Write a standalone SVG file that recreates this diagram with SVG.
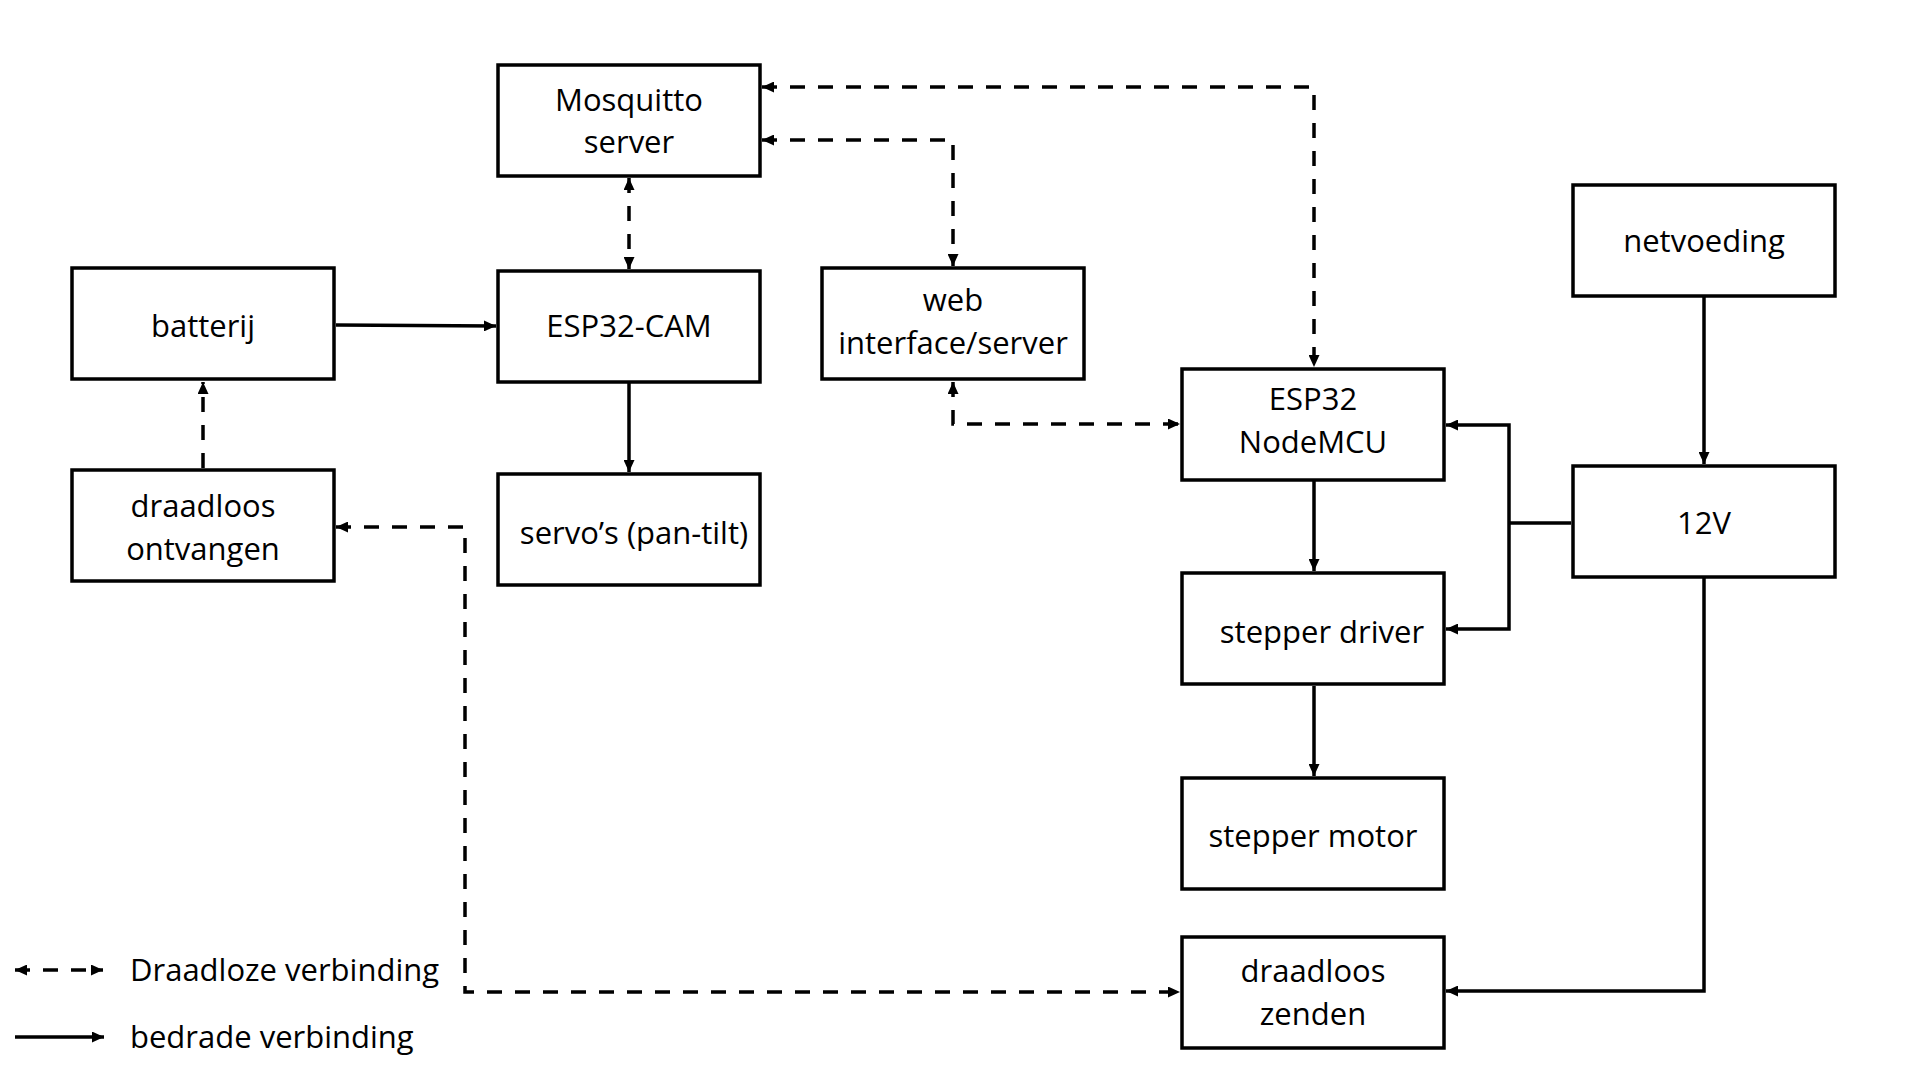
<svg xmlns="http://www.w3.org/2000/svg" width="1920" height="1080" viewBox="0 0 1920 1080">
<defs>
<style>
.box{fill:#fff;stroke:#000;stroke-width:3.5}
.lbl{font-family:"Open Sans","Liberation Sans",sans-serif;font-size:31px;fill:#000;text-anchor:middle}
.leg{font-family:"Open Sans","Liberation Sans",sans-serif;font-size:31px;fill:#000}
.wire{fill:none;stroke:#000;stroke-width:3.5;marker-end:url(#ah)}
.wl{fill:none;stroke:#000;stroke-width:3.5;stroke-dasharray:15 13;marker-start:url(#ah);marker-end:url(#ah)}
.wl1{fill:none;stroke:#000;stroke-width:3.5;stroke-dasharray:15 13;marker-end:url(#ah)}
.pl{fill:none;stroke:#000;stroke-width:3.5}
</style>
<marker id="ah" markerUnits="userSpaceOnUse" markerWidth="12" markerHeight="11" refX="12" refY="5.5" orient="auto-start-reverse" viewBox="0 0 12 11">
<path d="M0,0 L12,5.5 L0,11 z" fill="#000"/>
</marker>
</defs>
<rect width="1920" height="1080" fill="#fff"/>
<g id="connectors">
<path class="wl" d="M762,87 H1314 V367"/>
<path class="wl" d="M762,140 H953 V266"/>
<path class="wl" d="M629,178 V269"/>
<path class="wire" d="M336,325 L496,326"/>
<path class="wire" d="M629,383 V472"/>
<path class="wl1" d="M203,468 V382"/>
<path class="wl" d="M336,527 H465 V992 H1180"/>
<path class="wl" d="M953,382 V424 H1180"/>
<path class="wire" d="M1314,481 V571"/>
<path class="wire" d="M1314,686 V776"/>
<path class="wire" d="M1704,297 V464"/>
<path class="pl" d="M1571,523 H1509"/>
<path class="wire" style="marker-start:url(#ah)" d="M1446,425 H1509 V629 H1446"/>
<path class="wire" d="M1704,578 V991 H1446"/>
</g>
<g id="mosquitto"><rect class="box" x="498" y="65" width="262" height="111"/><text class="lbl" x="629" y="111">Mosquitto</text><text class="lbl" x="629" y="153">server</text></g>
<g id="esp32cam"><rect class="box" x="498" y="271" width="262" height="111"/><text class="lbl" x="629" y="337">ESP32-CAM</text></g>
<g id="batterij"><rect class="box" x="72" y="268" width="262" height="111"/><text class="lbl" x="203" y="337">batterij</text></g>
<g id="ontvangen"><rect class="box" x="72" y="470" width="262" height="111"/><text class="lbl" x="203" y="517">draadloos</text><text class="lbl" x="203" y="560">ontvangen</text></g>
<g id="servos"><rect class="box" x="498" y="474" width="262" height="111"/><text class="lbl" x="634" y="544">servo’s (pan-tilt)</text></g>
<g id="web"><rect class="box" x="822" y="268" width="262" height="111"/><text class="lbl" x="953" y="311">web</text><text class="lbl" x="953" y="354">interface/server</text></g>
<g id="nodemcu"><rect class="box" x="1182" y="369" width="262" height="111"/><text class="lbl" x="1313" y="410">ESP32</text><text class="lbl" x="1313" y="453">NodeMCU</text></g>
<g id="netvoeding"><rect class="box" x="1573" y="185" width="262" height="111"/><text class="lbl" x="1704" y="252">netvoeding</text></g>
<g id="v12"><rect class="box" x="1573" y="466" width="262" height="111"/><text class="lbl" x="1704" y="534">12V</text></g>
<g id="stepperdriver"><rect class="box" x="1182" y="573" width="262" height="111"/><text class="lbl" x="1322" y="643">stepper driver</text></g>
<g id="steppermotor"><rect class="box" x="1182" y="778" width="262" height="111"/><text class="lbl" x="1313" y="847">stepper motor</text></g>
<g id="zenden"><rect class="box" x="1182" y="937" width="262" height="111"/><text class="lbl" x="1313" y="982">draadloos</text><text class="lbl" x="1313" y="1025">zenden</text></g>
<g id="legend">
<path class="wl" d="M15,970 H103"/>
<path class="wire" d="M15,1037 H104"/>
<text class="leg" x="130" y="981">Draadloze verbinding</text>
<text class="leg" x="130" y="1048">bedrade verbinding</text>
</g>
</svg>
